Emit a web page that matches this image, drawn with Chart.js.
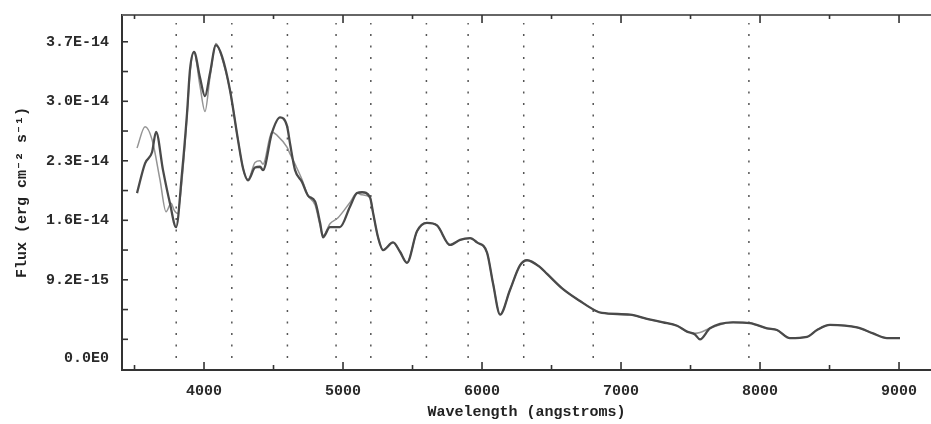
<!DOCTYPE html>
<html>
<head>
<meta charset="utf-8">
<script src="https://cdn.jsdelivr.net/npm/chart.js@4.4.0/dist/chart.umd.min.js"></script>
<style>
  html, body { margin: 0; background: #fff; }
  canvas { display: block; }
</style>
</head>
<body>
<canvas id="spectrumChart" width="931" height="424"></canvas>
<script>
// Flux values are in units of 1e-15 erg cm^-2 s^-1, wavelengths in angstroms
const observedWave = [3518, 3576, 3626, 3655, 3705, 3755, 3799, 3842, 3878, 3899, 3928, 3971, 4007, 4043, 4086, 4129, 4187, 4245, 4281, 4317, 4367, 4403, 4424, 4489, 4547, 4597, 4619, 4655, 4705, 4748, 4799, 4835, 4856, 4906, 4978, 5050, 5101, 5137, 5194, 5216, 5252, 5288, 5360, 5410, 5460, 5532, 5604, 5676, 5770, 5842, 5914, 5964, 6036, 6079, 6130, 6201, 6273, 6324, 6417, 6468, 6583, 6705, 6813, 6863, 7065, 7187, 7302, 7403, 7475, 7530, 7568, 7640, 7806, 7928, 8050, 8122, 8215, 8338, 8410, 8503, 8698, 8813, 8913, 9007];
const observedFlux = [19.4, 22.9, 24.2, 26.6, 22.1, 18.2, 15.4, 21.8, 28.8, 33.9, 36.0, 33.0, 30.8, 33.5, 36.8, 35.5, 31.5, 25.6, 22.3, 20.9, 22.4, 22.5, 22.1, 26.5, 28.3, 27.3, 25.2, 22.1, 20.7, 19.1, 18.4, 15.9, 14.2, 15.4, 15.4, 17.8, 19.4, 19.5, 18.9, 17.1, 14.2, 12.7, 13.6, 12.5, 11.2, 14.9, 15.9, 15.6, 13.3, 13.9, 14.1, 13.6, 12.4, 8.8, 5.1, 8.0, 10.9, 11.5, 10.7, 9.9, 8.1, 6.7, 5.6, 5.3, 5.1, 4.6, 4.2, 3.8, 3.1, 2.8, 2.2, 3.5, 4.2, 4.1, 3.5, 3.3, 2.35, 2.5, 3.3, 3.9, 3.6, 2.9, 2.35, 2.35];

const modelWave = [3518, 3576, 3626, 3683, 3727, 3763, 3785, 3810, 3842, 3878, 3899, 3928, 3971, 4007, 4043, 4086, 4129, 4187, 4245, 4281, 4317, 4367, 4403, 4424, 4489, 4525, 4597, 4619, 4655, 4705, 4748, 4799, 4835, 4856, 4906, 4964, 5050, 5101, 5137, 5194, 5216, 5252, 5288, 5360, 5410, 5460, 5532, 5604, 5676, 5770, 5842, 5914, 5964, 6036, 6079, 6130, 6201, 6273, 6324, 6417, 6468, 6583, 6705, 6813, 6863, 7065, 7187, 7302, 7403, 7475, 7530, 7568, 7640, 7806, 7928, 8050, 8122, 8215, 8338, 8410, 8503, 8698, 8813, 8913, 9007];
const modelFlux = [24.7, 27.2, 25.7, 21.0, 17.2, 18.2, 17.4, 17.0, 21.0, 28.5, 33.5, 36.0, 32.0, 29.0, 33.0, 37.0, 35.3, 31.5, 25.6, 22.3, 21.0, 23.0, 23.2, 22.8, 26.6, 26.2, 24.8, 24.0, 22.8, 21.0, 19.1, 18.0, 15.6, 14.4, 15.8, 16.5, 18.3, 19.4, 19.2, 18.9, 17.1, 14.2, 12.7, 13.6, 12.5, 11.2, 14.9, 15.9, 15.6, 13.3, 13.9, 14.1, 13.6, 12.4, 8.8, 5.1, 8.0, 10.9, 11.5, 10.7, 9.9, 8.1, 6.7, 5.6, 5.3, 5.1, 4.6, 4.2, 3.8, 3.1, 2.9, 3.0, 3.5, 4.2, 4.1, 3.5, 3.3, 2.35, 2.5, 3.3, 3.9, 3.6, 2.9, 2.35, 2.35];

// line identifications marked with dotted verticals
const featureLines = [3800, 4200, 4600, 4950, 5200, 5600, 5900, 6300, 6800, 7920];
const featureTop = 39.4;

const xTickValues = [4000, 5000, 6000, 7000, 8000, 9000];
const xMinorValues = [3500, 4500, 5500, 6500, 7500, 8500];
const yTickValues = [0, 9.2, 16.2, 23.2, 30.2, 37.2];
const yTickLabels = ['0.0E0', '9.2E-15', '1.6E-14', '2.3E-14', '3.0E-14', '3.7E-14'];
const yMarkValues = [2.2, 5.7, 9.2, 12.7, 16.2, 19.7, 23.2, 26.7, 30.2, 33.7, 37.2];

const toPoints = (xs, ys) => xs.map((x, i) => ({ x, y: ys[i] }));

const featureSets = featureLines.map(w => ({
  data: [{ x: w, y: 0 }, { x: w, y: featureTop }],
  borderColor: '#555',
  borderWidth: 1.5,
  borderDash: [2, 9.5],
  pointRadius: 0,
  order: 3
}));

// inward tick marks on the frame plus the top edge
const frameTicks = {
  id: 'frameTicks',
  afterDraw(chart) {
    const { ctx, chartArea: a, scales: { x, y } } = chart;
    const mark = (x1, y1, x2, y2) => {
      ctx.beginPath(); ctx.moveTo(x1, y1); ctx.lineTo(x2, y2); ctx.stroke();
    };
    ctx.save();
    ctx.strokeStyle = '#666';
    ctx.lineWidth = 2;
    mark(a.left, a.top, a.right, a.top);
    ctx.strokeStyle = '#333';
    ctx.lineWidth = 1.6;
    xTickValues.forEach(v => {
      const px = x.getPixelForValue(v);
      mark(px, a.bottom, px, a.bottom - 8);
      mark(px, a.top, px, a.top + 8);
    });
    xMinorValues.forEach(v => {
      const px = x.getPixelForValue(v);
      mark(px, a.bottom, px, a.bottom - 5);
      mark(px, a.top, px, a.top + 4);
    });
    yMarkValues.forEach(v => {
      const py = y.getPixelForValue(v);
      mark(a.left, py, a.left + 6, py);
    });
    ctx.restore();
  }
};

const labelFont = { family: '"Liberation Mono", "DejaVu Sans Mono", monospace', size: 15, weight: 'bold' };

new Chart(document.getElementById('spectrumChart'), {
  type: 'line',
  data: {
    datasets: [
      {
        label: 'Model',
        data: toPoints(modelWave, modelFlux),
        borderColor: '#949494',
        borderWidth: 1.5,
        pointRadius: 0,
        cubicInterpolationMode: 'monotone',
        order: 2
      },
      {
        label: 'Observed',
        data: toPoints(observedWave, observedFlux),
        borderColor: '#4a4a4a',
        borderWidth: 2.3,
        pointRadius: 0,
        cubicInterpolationMode: 'monotone',
        order: 1
      },
      ...featureSets
    ]
  },
  options: {
    responsive: false,
    animation: false,
    layout: { padding: { top: 15, right: 0, left: 0, bottom: 0 } },
    plugins: {
      legend: { display: false },
      tooltip: { enabled: false }
    },
    scales: {
      x: {
        type: 'linear',
        min: 3410,
        max: 9230,
        grid: { display: false, drawTicks: false },
        border: { display: true, color: '#333', width: 2 },
        afterBuildTicks: scale => { scale.ticks = xTickValues.map(value => ({ value })); },
        afterFit: scale => {
          scale.height = 54;
          scale.paddingLeft = 0;
          scale.paddingRight = 0;
        },
        ticks: {
          padding: 12,
          color: '#2a2a2a',
          font: labelFont,
          maxRotation: 0,
          callback: v => String(v)
        },
        title: {
          display: true,
          text: 'Wavelength (angstroms)',
          color: '#222',
          font: { family: labelFont.family, size: 15, weight: 'bold' },
          padding: { top: 0, bottom: 3 }
        }
      },
      y: {
        type: 'linear',
        min: -1.41,
        max: 40.35,
        grid: { display: false, drawTicks: false },
        border: { display: true, color: '#333', width: 2 },
        afterBuildTicks: scale => { scale.ticks = yTickValues.map(value => ({ value })); },
        afterFit: scale => {
          scale.width = 122;
          scale.paddingTop = 0;
          scale.paddingBottom = 0;
        },
        ticks: {
          padding: 13,
          color: '#2a2a2a',
          font: labelFont,
          callback: (v, i) => yTickLabels[i]
        },
        title: {
          display: true,
          text: 'Flux (erg cm\u207B\u00B2 s\u207B\u00B9)',
          color: '#222',
          font: { family: labelFont.family, size: 15, weight: 'bold' },
          padding: { top: 13, bottom: 0 }
        }
      }
    }
  },
  plugins: [frameTicks]
});
</script>
</body>
</html>
